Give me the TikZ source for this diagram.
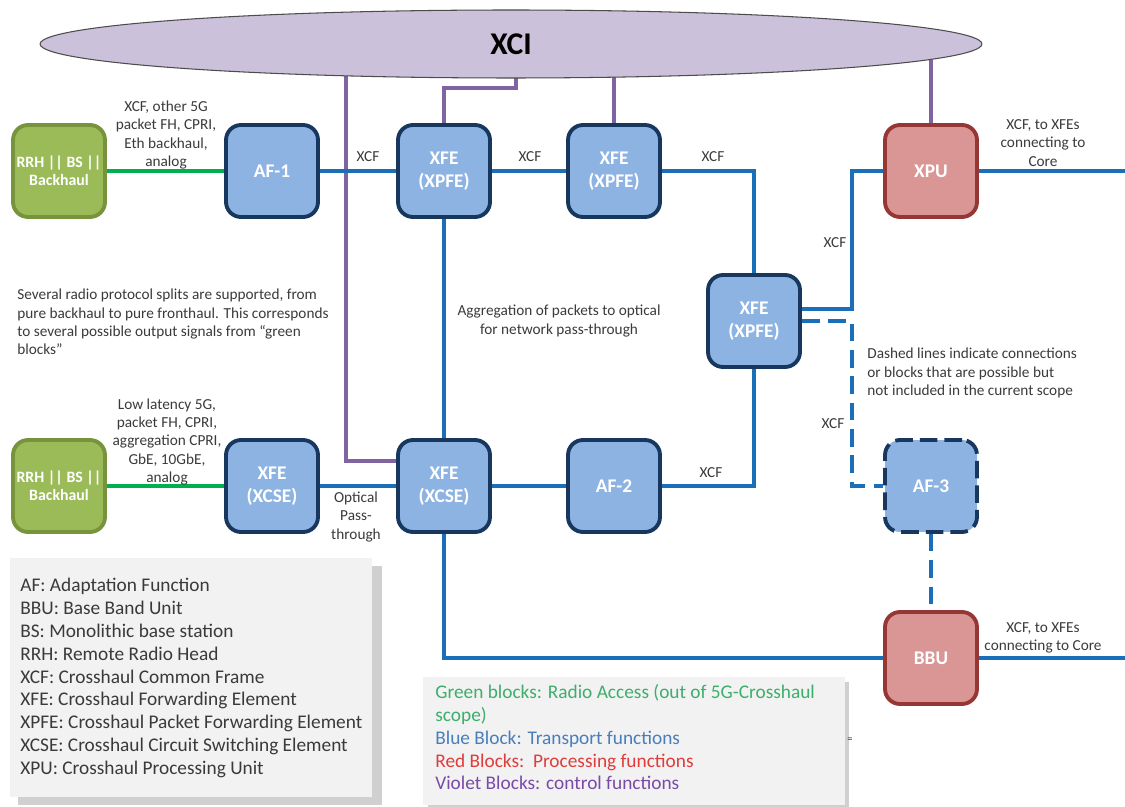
\documentclass[tikz,border=0pt]{standalone}
\usepackage{fontspec}
\setmainfont{Carlito}
\usetikzlibrary{shapes.geometric,calc,backgrounds}
\definecolor{bfill}{HTML}{8DB3E2}
\definecolor{bdraw}{HTML}{17375E}
\definecolor{gfill}{HTML}{9BBB59}
\definecolor{gdraw}{HTML}{77933C}
\definecolor{rfill}{HTML}{D99694}
\definecolor{rdraw}{HTML}{953735}
\definecolor{lblue}{HTML}{1B6FB8}
\definecolor{lgreen}{HTML}{00B050}
\definecolor{lviolet}{HTML}{8064A2}
\definecolor{efill}{HTML}{CCC1DA}
\definecolor{txt}{HTML}{3A3A3A}
\definecolor{legbg}{HTML}{F2F2F2}
\definecolor{legsh}{HTML}{D0D0D0}
\definecolor{tgreen}{HTML}{3DAE6B}
\definecolor{tblue}{HTML}{4A7EBB}
\definecolor{tred}{HTML}{E03C3C}
\definecolor{tviolet}{HTML}{7A4AA8}
\tikzset{
  blk/.style={rounded corners=0.3cm, minimum width=1.84cm, minimum height=1.84cm,
    line width=2.2pt, font=\fontsize{11}{13}\selectfont\bfseries, text=white,
    align=center, inner sep=0pt},
  bluebox/.style={blk, fill=bfill, draw=bdraw},
  greenbox/.style={blk, fill=gfill, draw=gdraw, font=\fontsize{9}{10.5}\selectfont\bfseries},
  redbox/.style={blk, fill=rfill, draw=rdraw},
  dashbox/.style={blk, fill=bfill, draw=bdraw, dash pattern=on 10pt off 4pt},
  bl/.style={draw=lblue, line width=2pt},
  bldash/.style={draw=lblue, line width=2pt, dash pattern=on 10pt off 5pt},
  gl/.style={draw=lgreen, line width=2pt},
  vio/.style={draw=lviolet, line width=1.9pt},
  lbl/.style={text=txt, font=\fontsize{8.7}{10.5}\selectfont, align=center, inner sep=0pt},
  lbll/.style={lbl, align=left},
  legtxt/.style={font=\fontsize{11}{13}\selectfont, align=left, inner sep=0pt, anchor=north west}
}
\begin{document}
\begin{tikzpicture}[x=0.02cm,y=-0.02cm]
\useasboundingbox (0,0) rectangle (1125,807);

% legend boxes
\fill[legsh] (18,566) rectangle (382,805);
\fill[legbg] (10,558) rectangle (372,797);
\fill[legsh] (428,682) rectangle (849,808);
\fill[legbg] (423,677) rectangle (845,805);

% XCI ellipse
\node[ellipse, fill=efill, draw=black!70, line width=0.6pt, minimum width=18.84cm,
      minimum height=1.36cm, inner sep=0pt, font=\fontsize{18}{20}\selectfont\bfseries] (xci) at (511,44) {XCI};

% blocks
\node[greenbox] (g1) at (59,171) {RRH || BS ||\\Backhaul};
\node[bluebox] (af1) at (272,171) {AF-1};
\node[bluebox] (xfe1) at (444,171) {XFE\\(XPFE)};
\node[bluebox] (xfe2) at (614,171) {XFE\\(XPFE)};
\node[redbox] (xpu) at (931,171) {XPU};
\node[bluebox] (xfe3) at (754,321) {XFE\\(XPFE)};
\node[greenbox] (g2) at (59,486) {RRH || BS ||\\Backhaul};
\node[bluebox] (xcse1) at (272,486) {XFE\\(XCSE)};
\node[bluebox] (xcse2) at (444,486) {XFE\\(XCSE)};
\node[bluebox] (af2) at (614,486) {AF-2};
\node[dashbox] (af3) at (931,486) {AF-3};
\node[redbox] (bbu) at (931,658) {BBU};

% coordinates
\coordinate (p1) at (346,60);
\coordinate (p2) at (516,60);
\coordinate (pk) at (444,88);
\coordinate (p3) at (614,60);
\coordinate (p4) at (931,60);
\coordinate (j1) at (852,171);
\coordinate (j2) at (852,321);
\coordinate (e1) at (1125,171);
\coordinate (e2) at (1125,658);

\begin{pgfonlayer}{background}
\draw[vio] (p1) |- ($(xcse2.west)+(0,-25)$);
\draw[vio] (p2) |- (pk) -- (xfe1.north);
\draw[vio] (p3) -- (xfe2.north);
\draw[vio] (p4) -- (xpu.north);
\draw[gl] (g1) -- (af1);
\draw[gl] (g2) -- (xcse1);
\draw[bl] (af1) -- (xfe1);
\draw[bl] (xfe1) -- (xfe2);
\draw[bl] (xfe2.east) -| (xfe3.north);
\draw[bl] ($(xfe3.east)+(0,-12)$) -| (j1) -- (xpu.west);
\draw[bldash] (xfe3.east) -- (j2) |- (af3.west);
\draw[bldash] (af3.south) -- (bbu.north);
\draw[bl] (xpu.east) -- (e1);
\draw[bl] (bbu.east) -- (e2);
\draw[bl] (xfe1.south) -- (xcse2.north);
\draw[bl] (xcse2.south) |- (bbu.west);
\draw[bl] (xcse1) -- (xcse2);
\draw[bl] (xcse2) -- (af2);
\draw[bl] (af2.east) -| (xfe3.south);
\end{pgfonlayer}

% labels
\node[lbl] (l1) at (166,135) {XCF, other 5G\\packet FH, CPRI,\\Eth backhaul,\\analog};
\node[lbl] (l2) at (368,157) {XCF};
\node[lbl] (l3) at (530,157) {XCF};
\node[lbl] (l4) at (713,157) {XCF};
\node[lbl] (l5) at (835,243) {XCF};
\node[lbl] (l6) at (833,424) {XCF};
\node[lbl] (l7) at (711,473) {XCF};
\node[lbl] (l8) at (1043,143) {XCF, to XFEs\\connecting to\\Core};
\node[lbl] (l9) at (1043,638) {XCF, to XFEs\\connecting to Core};
\node[lbl] (l10) at (559,321) {Aggregation of packets to optical\\for network pass-through};
\node[lbll, anchor=west] (l11) at (867,373) {Dashed lines indicate connections\\or blocks that are possible but\\not included in the current scope};
\node[lbll, anchor=west] (l12) at (17,322) {Several radio protocol splits are supported, from\\pure backhaul to pure fronthaul. This corresponds\\to several possible output signals from “green\\blocks”};
\node[lbl] (l13) at (167,442) {Low latency 5G,\\packet FH, CPRI,\\aggregation CPRI,\\GbE, 10GbE,\\analog};
\node[lbl] (l14) at (356,517) {Optical\\Pass-\\through};

% legends
\node[legtxt, text=txt] (leg1) at (20,578) {AF: Adaptation Function\\BBU: Base Band Unit\\BS: Monolithic base station\\RRH: Remote Radio Head\\XCF: Crosshaul Common Frame\\XFE: Crosshaul Forwarding Element\\XPFE: Crosshaul Packet Forwarding Element\\XCSE: Crosshaul Circuit Switching Element\\XPU: Crosshaul Processing Unit};
\node[legtxt] (leg2) at (435,684) {\textcolor{tgreen}{Green blocks: Radio Access (out of 5G-Crosshaul}\\\textcolor{tgreen}{scope)}\\\textcolor{tblue}{Blue Block: Transport functions}\\\textcolor{tred}{Red Blocks:\ \ Processing functions}\\\textcolor{tviolet}{Violet Blocks: control functions}};
\node[text=txt, font=\fontsize{6}{6}\selectfont, inner sep=0pt] (eq) at (850,740) {=};
\end{tikzpicture}
\end{document}
